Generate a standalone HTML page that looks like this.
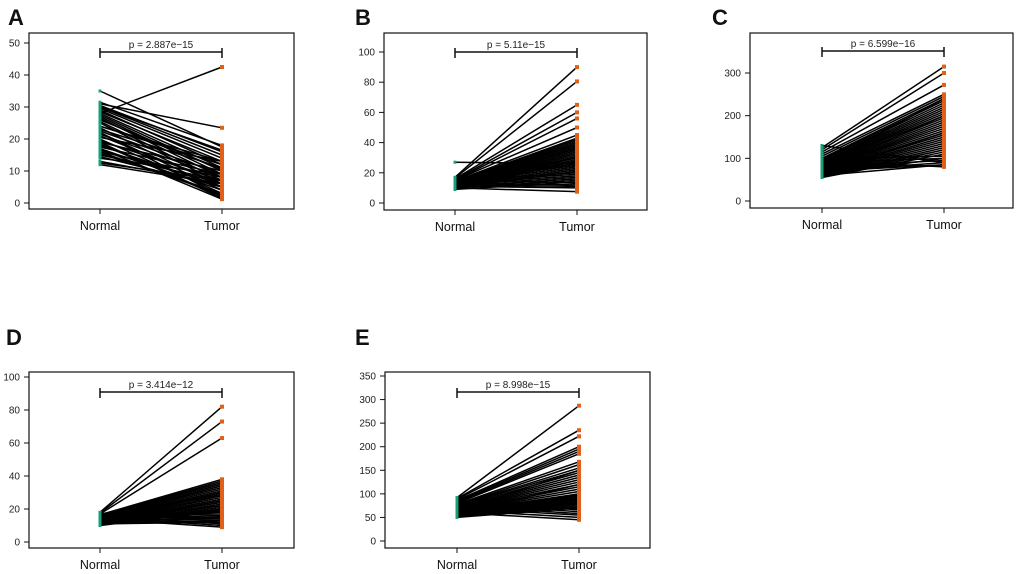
<!DOCTYPE html>
<html><head><meta charset="utf-8">
<style>
html,body{margin:0;padding:0;background:#fff;}
svg{display:block;font-family:"Liberation Sans",Arial,sans-serif;}
</style></head>
<body>
<svg id="fig" width="1020" height="574" viewBox="0 0 1020 574" xmlns="http://www.w3.org/2000/svg"></svg>
<script>
const categories = ["Normal","Tumor"];
const normalA = [35,31,30.5,30,29.5,29,28.5,28,27.5,27,26.5,26,25.5,25,24,23.5,23,22.5,22,21.5,21,20.5,20,19.5,19,18.5,18,17.5,17,16.5,16,15.5,15,14.5,14,13,12.5,12,28,24,22,19,17,16,31.5,30];
const tumorA  = [17.5,23.5,16,15,14,12,13,11,10,9,8,10.5,7,6,12,5,11,9,4,8,6,13,3,7,10,2,5,9,4,6,8,3,7,5,9,6,7,6,42.5,13,2,1.5,1.2,2.5,18,16.5];
const ticksA = [0,10,20,30,40,50];
const normalB = [27,17,16.5,16,15.5,15,15,14.5,14,14,13.5,13,13,12.5,12,12,11.5,11,11,10.5,10,10,9.5,9,16,15,14,13,12,11,10,15,14,13,12,11,10,9,16,13,12,11,14,15,10];
const tumorB  = [26,90,80.5,65,60,56,50,45,43,42,41,40,39,38,37,36,35,34,33,32,31,30,29,28,27,26,25,24,23,22,21,20,19,18,17,16,15,14,13,12,11,10,30,25,7.5];
const ticksB = [0,20,40,60,80,100];
const normalC = [130,125,120,115,110,105,100,98,95,92,90,88,86,85,84,82,80,78,76,75,74,72,70,68,66,65,64,62,60,58,57,56,55,100,90,80,70,60,95,85,75,65,58,62,70];
const tumorC  = [90,315,300,272,250,245,240,235,230,225,220,215,210,205,200,195,190,185,180,175,170,165,160,155,150,145,140,135,130,125,120,115,110,105,100,95,90,85,80,240,200,160,120,100,85];
const ticksC = [0,100,200,300];
const normalD = [18,17.5,17,16.5,16,16,15.5,15,15,14.5,14,14,13.5,13,13,12.5,12,12,11.5,11,11,10.5,10,17,16,15,14,13,12,11,16,15,14,13,12,11,15,14,13,12,14,13,12,11,17];
const tumorD  = [82,73,63,38,37,36,35,34,33,32,31,30,29,28,27,26,25,24,23,22,21,20,19,18,17,16,15,14,13,12,11,10,9,30,25,20,18,16,14,12,22,19,15,13,28];
const ticksD = [0,20,40,60,80,100];
const normalE = [92,90,88,86,84,82,80,78,76,75,74,72,70,69,68,67,66,65,64,63,62,61,60,59,58,57,56,55,54,53,52,51,50,85,80,75,70,65,60,55,72,68,64,58,52];
const tumorE  = [287,235,222,200,195,190,185,168,162,155,150,145,140,135,130,125,120,115,110,105,100,97,95,92,90,88,85,82,80,78,75,72,70,66,62,58,55,50,45,100,90,80,150,120,85];
const ticksE = [0,50,100,150,200,250,300,350];
const pvals = ["p = 2.887e\u221215","p = 5.11e\u221215","p = 6.599e\u221216","p = 3.414e\u221212","p = 8.998e\u221215"];

const panels = [
 {id:"a",letter:"A",lx:8,ly:25,box:[29,33,294,209],xs:[100,222],yTop:43,yBot:203,yLim:50,n:normalA,t:tumorA,ticks:ticksA,p:pvals[0],brY:52},
 {id:"b",letter:"B",lx:355,ly:25,box:[384,33,647,210],xs:[455,577],yTop:52,yBot:203,yLim:100,n:normalB,t:tumorB,ticks:ticksB,p:pvals[1],brY:52},
 {id:"c",letter:"C",lx:712,ly:25,box:[750,33,1013,208],xs:[822,944],yTop:73,yBot:201,yLim:300,n:normalC,t:tumorC,ticks:ticksC,p:pvals[2],brY:51},
 {id:"d",letter:"D",lx:6,ly:345,box:[29,372,294,548],xs:[100,222],yTop:377,yBot:542,yLim:100,n:normalD,t:tumorD,ticks:ticksD,p:pvals[3],brY:392},
 {id:"e",letter:"E",lx:355,ly:345,box:[385,372,650,548],xs:[457,579],yTop:376,yBot:541,yLim:350,n:normalE,t:tumorE,ticks:ticksE,p:pvals[4],brY:392}
];
const NS="http://www.w3.org/2000/svg";
const svg=document.getElementById("fig");
function mk(tag,attrs,parent){const e=document.createElementNS(NS,tag);for(const k in attrs)e.setAttribute(k,attrs[k]);parent.appendChild(e);return e;}
panels.forEach(P=>{
  const g=mk("g",{},svg);
  
  
  const y=v=>P.yBot-(v/P.yLim)*(P.yBot-P.yTop);
  const lab=mk("text",{x:P.lx,y:P.ly,"font-size":22,"font-weight":"bold",fill:"#111"},g);
  lab.textContent=P.letter;
  
  
  const [x0,y0,x1,y1]=P.box;
  const box=mk("rect",{x:x0,y:y0,width:x1-x0,height:y1-y0,fill:"none",stroke:"#111","stroke-width":1.2},g);
  
  
  P.ticks.forEach(tv=>{
    const ty=y(tv);
    const tk=mk("line",{x1:x0-5,x2:x0,y1:ty,y2:ty,stroke:"#111","stroke-width":1},g);
    
    
    const tl=mk("text",{x:x0-9,y:ty+3.5,"font-size":10,"text-anchor":"end",fill:"#222"},g);
    tl.textContent=tv;
    
    
  });
  categories.forEach((c,i)=>{
    const xx=P.xs[i];
    const tk=mk("line",{x1:xx,x2:xx,y1:y1,y2:y1+5,stroke:"#111","stroke-width":1},g);
    
    
    const tl=mk("text",{x:xx,y:y1+21,"font-size":12.5,"text-anchor":"middle",fill:"#111"},g);
    tl.textContent=c;
    
    
  });
  P.n.forEach((nv,i)=>{
    const ln=mk("line",{x1:P.xs[0],y1:y(nv),x2:P.xs[1],y2:y(P.t[i]),stroke:"#000","stroke-width":1.5},g);
    
    
  });
  P.n.forEach(nv=>{
    const pt=mk("rect",{x:P.xs[0]-1.5,y:y(nv)-1.5,width:3,height:3,fill:"#1a9e77"},g);
    
    
  });
  P.t.forEach(tv=>{
    const pt=mk("rect",{x:P.xs[1]-2,y:y(tv)-2,width:4,height:4,fill:"#e0601a"},g);
    
    
  });
  const b=mk("path",{d:`M${P.xs[0]},${P.brY-4}V${P.brY+6}M${P.xs[0]},${P.brY}H${P.xs[1]}M${P.xs[1]},${P.brY-4}V${P.brY+6}`,stroke:"#111","stroke-width":1.5,fill:"none"},g);
  
  
  const pt=mk("text",{x:(P.xs[0]+P.xs[1])/2,y:P.brY-4,"font-size":10,"text-anchor":"middle",fill:"#222"},g);
  pt.textContent=P.p;
  
  
});
</script>
</body></html>
